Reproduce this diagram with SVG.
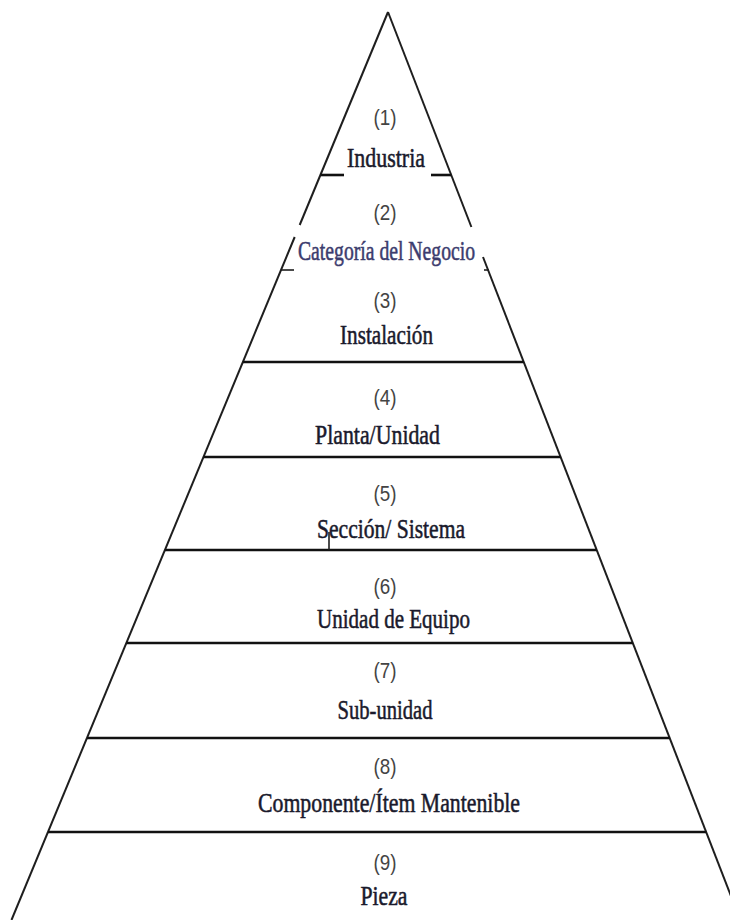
<svg xmlns="http://www.w3.org/2000/svg" width="730" height="920" viewBox="0 0 730 920">
<style>
.edge{stroke:#1e1e1e;stroke-width:2;fill:none;stroke-linecap:butt}
.sep{stroke:#111;stroke-width:2.6;fill:none}
.tick{stroke:#1e1e1e;stroke-width:1.6;fill:none}
.num{font-family:"Liberation Sans","Arial",sans-serif;font-size:22px;fill:#444;text-anchor:middle}
.lbl{font-family:"Liberation Serif","Times New Roman",serif;font-size:28px;fill:#1a1a2c;text-anchor:middle;stroke:#1a1a2c;stroke-width:0.55}
.cat{fill:#3c3c6e;stroke:#3c3c6e}
</style>
<rect width="730" height="920" fill="#ffffff"/>
<g id="outline">
<line class="edge" x1="388" y1="12" x2="299.7" y2="225"/>
<line class="edge" x1="294.7" y1="237" x2="11.5" y2="920"/>
<line class="tick" x1="281" y1="270" x2="294" y2="270"/>
<line class="edge" x1="388" y1="12" x2="471.4" y2="227"/>
<line class="edge" x1="483" y1="257" x2="740.3" y2="920"/>
<line class="tick" x1="484" y1="270" x2="489" y2="270"/>
<line class="sep" x1="320.4" y1="175" x2="344" y2="175"/>
<line class="sep" x1="431" y1="175" x2="451.2" y2="175"/>
<line class="sep" x1="242.9" y1="362" x2="523.8" y2="362"/>
<line class="sep" x1="203.5" y1="457" x2="560.7" y2="457"/>
<line class="sep" x1="164.9" y1="550" x2="596.7" y2="550"/>
<line class="sep" x1="126.4" y1="643" x2="632.8" y2="643"/>
<line class="sep" x1="87" y1="738" x2="669.7" y2="738"/>
<line class="sep" x1="48" y1="832" x2="706.2" y2="832"/>
<line class="tick" x1="329" y1="532" x2="329" y2="550"/>
</g>
<g id="level1">
<text class="num" x="385" y="125" textLength="23" lengthAdjust="spacingAndGlyphs">(1)</text>
<text class="lbl" x="386" y="167" textLength="78" lengthAdjust="spacingAndGlyphs">Industria</text>
</g>
<g id="level2">
<text class="num" x="385" y="220" textLength="23" lengthAdjust="spacingAndGlyphs">(2)</text>
<text class="lbl cat" x="386.5" y="260" textLength="177" lengthAdjust="spacingAndGlyphs">Categoría del Negocio</text>
</g>
<g id="level3">
<text class="num" x="385" y="308" textLength="23" lengthAdjust="spacingAndGlyphs">(3)</text>
<text class="lbl" x="386.5" y="344" textLength="93" lengthAdjust="spacingAndGlyphs">Instalación</text>
</g>
<g id="level4">
<text class="num" x="385" y="405" textLength="23" lengthAdjust="spacingAndGlyphs">(4)</text>
<text class="lbl" x="377.5" y="444" textLength="125" lengthAdjust="spacingAndGlyphs">Planta/Unidad</text>
</g>
<g id="level5">
<text class="num" x="385" y="501" textLength="23" lengthAdjust="spacingAndGlyphs">(5)</text>
<text class="lbl" x="391" y="538" textLength="148" lengthAdjust="spacingAndGlyphs">Sección/ Sistema</text>
</g>
<g id="level6">
<text class="num" x="385" y="594" textLength="23" lengthAdjust="spacingAndGlyphs">(6)</text>
<text class="lbl" x="393.5" y="628" textLength="153" lengthAdjust="spacingAndGlyphs">Unidad de Equipo</text>
</g>
<g id="level7">
<text class="num" x="385" y="678" textLength="23" lengthAdjust="spacingAndGlyphs">(7)</text>
<text class="lbl" x="385" y="719" textLength="95" lengthAdjust="spacingAndGlyphs">Sub-unidad</text>
</g>
<g id="level8">
<text class="num" x="385" y="774" textLength="23" lengthAdjust="spacingAndGlyphs">(8)</text>
<text class="lbl" x="389" y="812" textLength="262" lengthAdjust="spacingAndGlyphs">Componente/Ítem Mantenible</text>
</g>
<g id="level9">
<text class="num" x="385" y="870" textLength="23" lengthAdjust="spacingAndGlyphs">(9)</text>
<text class="lbl" x="384" y="905" textLength="47" lengthAdjust="spacingAndGlyphs">Pieza</text>
</g>
</svg>
